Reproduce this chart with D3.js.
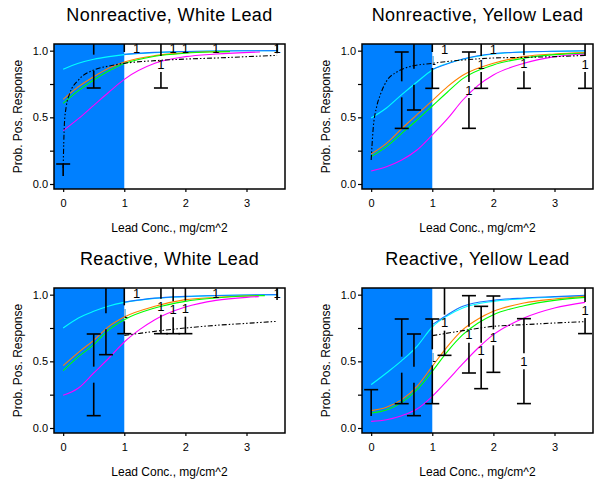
<!DOCTYPE html>
<html><head><meta charset="utf-8">
<script src="https://cdn.jsdelivr.net/npm/d3@7"></script>
<style>body{margin:0;background:#fff}svg{display:block;font-family:"Liberation Sans",Arial,sans-serif}</style>
</head><body>
<svg id="c" width="616" height="487"></svg>
<script>
// ---------- DATA ----------
const panelTitles = ["Nonreactive, White Lead","Nonreactive, Yellow Lead","Reactive, White Lead","Reactive, Yellow Lead"];
const xTicks = [0,1,2,3];
const yTicks = [0,0.25,0.5,0.75,1];
const yTickLabels = ["0.0","","0.5","","1.0"];
const xLabel = "Lead Conc., mg/cm^2";
const yLabel = "Prob. Pos. Response";

// Panel 1: Nonreactive, White Lead
const nwCyan    = [[0,0.86],[0.25,0.905],[0.5,0.935],[0.75,0.955],[1,0.97],[1.5,0.985],[2,0.993],[2.5,0.997],[3,0.999],[3.5,1.0]];
const nwBlue    = [[1,0.972],[1.5,0.987],[2,0.994],[2.5,0.998],[3,0.999],[3.5,1.0]];
const nwOrange  = [[0,0.635],[0.25,0.73],[0.5,0.805],[0.75,0.87],[1,0.915],[1.5,0.963],[2,0.984],[2.4,0.992],[2.73,0.995]];
const nwGreen   = [[0,0.605],[0.25,0.70],[0.5,0.78],[0.75,0.85],[1,0.903],[1.5,0.958],[2,0.981],[2.4,0.99],[2.73,0.993]];
const nwMagenta = [[0,0.40],[0.25,0.49],[0.5,0.59],[0.75,0.69],[1,0.785],[1.5,0.905],[2,0.955],[2.5,0.975],[3.22,0.99]];
const nwBlack   = [[0,0.12],[0.02,0.45],[0.05,0.58],[0.1,0.67],[0.25,0.78],[0.5,0.855],[0.75,0.885],[1,0.905],[1.5,0.925],[2,0.937],[2.5,0.945],[3,0.955],[3.5,0.965]];
const nwBarX   = [0, 0.5, 1.0, 1.6, 3.5];
const nwBarLo  = [-0.1, 0.72, 0.99, 0.72, 0.98];
const nwBarHi  = [0.15, 1.1, 1.1, 1.1, 1.1];
const nwBarMid = [0, 0.91, null, 0.90, null];
const nwLabX = [0, 0.5, 1.2, 1.6, 1.8, 2.0, 2.5, 3.5];
const nwLabY = [0, 0.91, 1.02, 0.90, 1.02, 1.02, 1.02, 1.02];

// Panel 2: Nonreactive, Yellow Lead
const nyCyan    = [[0,0.495],[0.25,0.57],[0.5,0.67],[0.75,0.765],[1,0.855],[1.5,0.935],[2,0.975],[2.5,0.99],[3,0.995],[3.5,0.998]];
const nyBlue    = [[1,0.86],[1.5,0.938],[2,0.977],[2.5,0.99],[3,0.996],[3.5,0.999]];
const nyOrange  = [[0,0.225],[0.25,0.305],[0.5,0.415],[0.75,0.52],[1,0.625],[1.25,0.73],[1.5,0.815],[2,0.905],[2.5,0.955],[3,0.975],[3.5,0.985]];
const nyGreen   = [[0,0.205],[0.25,0.28],[0.5,0.38],[0.75,0.48],[1,0.585],[1.25,0.69],[1.5,0.79],[2,0.893],[2.5,0.943],[3,0.97],[3.5,0.98]];
const nyMagenta = [[0,0.098],[0.25,0.13],[0.5,0.18],[0.75,0.255],[1,0.368],[1.25,0.49],[1.5,0.63],[1.75,0.74],[2,0.818],[2.5,0.905],[3,0.955],[3.5,0.975]];
const nyBlack   = [[0,0.18],[0.03,0.40],[0.09,0.58],[0.15,0.67],[0.25,0.77],[0.42,0.84],[0.63,0.88],[1,0.905],[1.5,0.93],[2,0.945],[2.5,0.95],[3,0.955],[3.5,0.965]];
const nyBarX   = [0.5, 0.7, 1.0, 1.6, 1.8, 2.5, 3.5];
const nyBarLo  = [0.417, 0.555, 0.7175, 0.4175, 0.7175, 0.7175, 0.7175];
const nyBarHi  = [0.99, 1.1, 1.1, 0.99, 1.1, 1.1, 1.1];
const nyBarMid = [0.71, 0.805, 0.93, 0.705, 0.90, 0.905, 0.90];
const nyLabX = [0.5, 0.7, 1.0, 1.2, 1.6, 1.8, 2.0, 2.5, 3.5];
const nyLabY = [0.71, 0.805, 0.93, 1.01, 0.705, 0.90, 1.01, 0.905, 0.90];

// Panel 3: Reactive, White Lead
const rwCyan    = [[0,0.75],[0.25,0.825],[0.5,0.875],[0.75,0.915],[1,0.942],[1.5,0.972],[2,0.985],[2.5,0.993],[3,0.997],[3.5,0.999]];
const rwBlue    = [[1,0.944],[1.5,0.974],[2,0.987],[2.5,0.994],[3,0.998],[3.5,1.0]];
const rwOrange  = [[0,0.4675],[0.25,0.5675],[0.5,0.6575],[0.75,0.7625],[1,0.8325],[1.5,0.9125],[2,0.9625],[2.5,0.98],[3,0.99],[3.2,0.992]];
const rwGreen   = [[0,0.43],[0.25,0.535],[0.5,0.625],[0.75,0.7375],[1,0.8125],[1.5,0.90],[2,0.95],[2.5,0.975],[3,0.99],[3.3,0.993]];
const rwMagenta = [[0,0.245],[0.25,0.30],[0.5,0.4125],[0.75,0.525],[1,0.645],[1.25,0.7375],[1.5,0.8125],[2,0.9075],[2.5,0.9575],[3,0.98],[3.2,0.985]];
const rwBlack   = [[1,0.695],[1.25,0.71],[1.5,0.725],[2,0.75],[2.5,0.77],[3,0.785],[3.5,0.80]];
const rwBarX   = [0.5, 0.7, 1.0, 1.6, 1.8, 2.0, 3.5];
const rwBarLo  = [0.0925, 0.55, 0.7075, 0.7075, 0.7075, 0.7075, 0.96];
const rwBarHi  = [0.705, 1.1, 1.1, 1.1, 1.1, 1.1, 1.1];
const rwBarMid = [0.40, 0.80, 0.86, 0.91, 0.89, 0.895, null];
const rwLabX = [0.5, 0.7, 1.0, 1.2, 1.6, 1.8, 2.0, 2.5, 3.5];
const rwLabY = [0.40, 0.80, 0.86, 1.01, 0.91, 0.89, 0.895, 1.01, 1.01];

// Panel 4: Reactive, Yellow Lead
const ryCyan    = [[0,0.325],[0.25,0.4125],[0.5,0.505],[0.75,0.6125],[1,0.7575],[1.25,0.8425],[1.5,0.90],[2,0.95],[2.5,0.97],[3,0.9825],[3.5,0.99]];
const ryBlue    = [[1,0.775],[1.25,0.85],[1.5,0.9125],[2,0.9575],[2.5,0.975],[3,0.985],[3.5,0.995]];
const ryOrange  = [[0,0.13],[0.25,0.155],[0.5,0.2125],[0.75,0.3125],[1,0.4625],[1.25,0.6125],[1.5,0.7375],[1.75,0.8175],[2,0.875],[2.5,0.9375],[3,0.9675],[3.5,0.9875]];
const ryGreen   = [[0,0.1125],[0.25,0.135],[0.5,0.1925],[0.75,0.2875],[1,0.425],[1.25,0.575],[1.5,0.70],[1.75,0.7875],[2,0.85],[2.5,0.9175],[3,0.9575],[3.5,0.98]];
const ryMagenta = [[0,0.05],[0.25,0.0625],[0.5,0.0925],[0.75,0.1425],[1,0.2375],[1.25,0.3575],[1.5,0.4825],[1.75,0.60],[2,0.70],[2.5,0.825],[3,0.90],[3.5,0.9425]];
const ryBlack   = [[1,0.6925],[1.5,0.73],[2,0.7625],[2.5,0.775],[3,0.7875],[3.5,0.7975]];
const ryBarX   = [0, 0.5, 0.7, 1.0, 1.2, 1.6, 1.8, 2.0, 2.5, 3.5];
const ryBarLo  = [-0.1, 0.1825, 0.0925, 0.1825, 0.545, 0.4125, 0.295, 0.4175, 0.183, 0.708];
const ryBarHi  = [0.2875, 0.8175, 0.705, 0.8175, 1.1, 0.9925, 0.9125, 0.99, 0.82, 1.1];
const ryBarMid = [0.03, 0.475, 0.40, 0.53, 0.79, 0.70, 0.58, 0.68, 0.50, 0.885];
const ryLabX = [0, 0.5, 0.7, 1.0, 1.2, 1.6, 1.8, 2.0, 2.5, 3.5];
const ryLabY = [0.03, 0.475, 0.40, 0.53, 0.79, 0.70, 0.58, 0.68, 0.50, 0.885];

const panels = [
  {ox:0,   oy:0,   cyan:nwCyan, blue:nwBlue, orange:nwOrange, green:nwGreen, magenta:nwMagenta, black:nwBlack,
   barX:nwBarX, barLo:nwBarLo, barHi:nwBarHi, barMid:nwBarMid, labX:nwLabX, labY:nwLabY},
  {ox:308, oy:0,   cyan:nyCyan, blue:nyBlue, orange:nyOrange, green:nyGreen, magenta:nyMagenta, black:nyBlack,
   barX:nyBarX, barLo:nyBarLo, barHi:nyBarHi, barMid:nyBarMid, labX:nyLabX, labY:nyLabY},
  {ox:0,   oy:244, cyan:rwCyan, blue:rwBlue, orange:rwOrange, green:rwGreen, magenta:rwMagenta, black:rwBlack,
   barX:rwBarX, barLo:rwBarLo, barHi:rwBarHi, barMid:rwBarMid, labX:rwLabX, labY:rwLabY},
  {ox:308, oy:244, cyan:ryCyan, blue:ryBlue, orange:ryOrange, green:ryGreen, magenta:ryMagenta, black:ryBlack,
   barX:ryBarX, barLo:ryBarLo, barHi:ryBarHi, barMid:ryBarMid, labX:ryLabX, labY:ryLabY}
];

// ---------- DRAW ----------
const svg = d3.select("#c");
const SHADE = "#0080ff";
const colors = {cyan:"#00ffff", blue:"#1478ff", orange:"#ff8000", green:"#00ff00", magenta:"#ff00ff", black:"#000"};

panels.forEach((p, i) => {
  const left = 54 + p.ox, right = 285 + p.ox, top = 44 + p.oy, bottom = 189 + p.oy;
  const x = d3.scaleLinear().domain([-0.15, 3.63]).range([left, right]);
  const y = d3.scaleLinear().domain([-0.0375, 1.05]).range([bottom, top]);
  const g = svg.append("g");
  const clipId = "clip" + i, clipId2 = "clipw" + i;
  svg.append("clipPath").attr("id", clipId).append("rect")
    .attr("x", left).attr("y", top).attr("width", right - left).attr("height", bottom - top);
  svg.append("clipPath").attr("id", clipId2).append("rect")
    .attr("x", x(1) + 0.5).attr("y", top).attr("width", right - x(1)).attr("height", bottom - top);
  const inner = g.append("g").attr("clip-path", `url(#${clipId})`);

  // shaded region x <= 1
  inner.append("rect").attr("x", left).attr("y", top).attr("width", x(1) - left).attr("height", bottom - top)
    .attr("fill", SHADE);

  const line = d3.line().x(d => x(d[0])).y(d => y(d[1])).curve(d3.curveMonotoneX);
  ["cyan","blue","orange","green","magenta"].forEach(k => {
    inner.append("path").attr("d", line(p[k])).attr("fill", "none").attr("stroke", colors[k]).attr("stroke-width", 1.1);
  });
  inner.append("path").attr("d", line(p.black)).attr("fill", "none").attr("stroke", "#000")
    .attr("stroke-width", 1.1).attr("stroke-dasharray", "5,2,1.5,2,1.5,2");

  // symbols "1" (only visible outside shaded region)
  g.append("g").attr("clip-path", `url(#${clipId2})`)
    .selectAll("text.sym").data(p.labX.map((v, k) => [v, p.labY[k]])).join("text")
    .attr("class", "sym").attr("x", d => x(d[0])).attr("y", d => y(d[1]) + 4.5)
    .attr("text-anchor", "middle").attr("font-size", 13).text("1");

  // error bars
  p.barX.forEach((bx, k) => {
    const px = x(bx), yl = y(p.barLo[k]), yh = y(p.barHi[k]);
    const mid = p.barMid[k];
    const segs = mid === null ? [[yh, yl]] : [[yh, y(mid) - 8], [y(mid) + 8, yl]];
    segs.forEach(s => {
      if (s[1] > s[0]) inner.append("line").attr("x1", px).attr("x2", px).attr("y1", s[0]).attr("y2", s[1])
        .attr("stroke", "#000").attr("stroke-width", 1.6);
    });
    if (p.barHi[k] - p.barLo[k] > 0.15) {
      [yl, yh].forEach(cy => inner.append("line").attr("x1", px - 7).attr("x2", px + 7).attr("y1", cy).attr("y2", cy)
        .attr("stroke", "#000").attr("stroke-width", 1.6));
    }
  });

  // frame
  g.append("rect").attr("x", left).attr("y", top).attr("width", right - left).attr("height", bottom - top)
    .attr("fill", "none").attr("stroke", "#000").attr("stroke-width", 1.5);

  // axes
  const xa = d3.axisBottom(x).tickValues(xTicks).tickSize(3).tickFormat(d3.format("d"));
  g.append("g").attr("transform", `translate(0,${bottom})`).call(xa)
    .call(s => s.select(".domain").remove())
    .call(s => s.selectAll("text").attr("font-size", 11).attr("font-family", "Liberation Sans, Arial").attr("dy", "0.9em").attr("y", 8))
    .call(s => s.selectAll("line").attr("stroke-width", 1.2));
  const ya = d3.axisLeft(y).tickValues(yTicks).tickSize(4).tickFormat((d, k) => yTickLabels[k]);
  g.append("g").attr("transform", `translate(${left},0)`).call(ya)
    .call(s => s.select(".domain").remove())
    .call(s => s.selectAll("text").attr("font-size", 11).attr("font-family", "Liberation Sans, Arial").attr("x", -6))
    .call(s => s.selectAll("line").attr("stroke-width", 1.2));

  // titles and labels
  g.append("text").attr("x", (left + right) / 2).attr("y", 21 + p.oy).attr("text-anchor", "middle")
    .attr("font-size", 18).attr("letter-spacing", 0.4).text(panelTitles[i]);
  g.append("text").attr("x", (left + right) / 2).attr("y", 232 + p.oy).attr("text-anchor", "middle")
    .attr("font-size", 12).text(xLabel);
  g.append("text").attr("transform", `translate(${22 + p.ox},${116.5 + p.oy}) rotate(-90)`).attr("text-anchor", "middle")
    .attr("font-size", 12).text(yLabel);
});
</script>
</body></html>
